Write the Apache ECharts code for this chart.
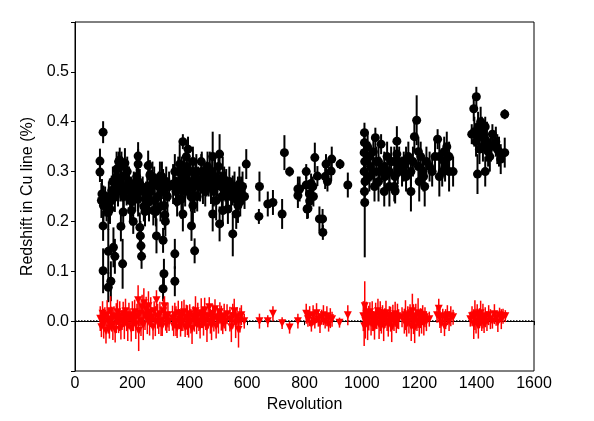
<!DOCTYPE html>
<html>
<head>
<meta charset="utf-8">
<script src="https://cdn.jsdelivr.net/npm/echarts@6/dist/echarts.min.js"></script>
<style>
html, body { margin: 0; padding: 0; background: #fff; }
#chart { width: 594px; height: 421px; }
</style>
</head>
<body>
<div id="chart"></div>
<script>
// [revolution, redshift %, error]
var blackPts = [
  [87,0.321,0.025],[87,0.299,0.02],[98,0.379,0.022],[94,0.255,0.03],[92,0.242,0.035],[99,0.232,0.04],
  [98,0.191,0.03],[98,0.101,0.045],[116,0.068,0.03],[125,0.08,0.04],[116,0.14,0.045],[134,0.148,0.04],
  [139,0.13,0.035],[166,0.115,0.05],[128,0.262,0.03],[128,0.242,0.025],[116,0.218,0.035],[122,0.225,0.03],
  [139,0.249,0.03],[145,0.305,0.035],[156,0.323,0.025],[162,0.31,0.03],[174,0.317,0.03],[160,0.19,0.03],
  [168,0.219,0.035],[180,0.262,0.03],[186,0.275,0.035],[192,0.242,0.04],[197,0.222,0.03],[203,0.2,0.025],
  [220,0.331,0.028],[220,0.315,0.03],[220,0.28,0.06],[226,0.275,0.03],[222,0.26,0.03],[220,0.245,0.035],
  [226,0.188,0.03],[228,0.171,0.03],[230,0.151,0.03],[232,0.13,0.025],[255,0.312,0.03],[261,0.293,0.03],
  [267,0.273,0.03],[273,0.222,0.03],[278,0.242,0.035],[284,0.171,0.035],[296,0.29,0.03],[300,0.26,0.035],
  [307,0.275,0.03],[310,0.26,0.035],[311,0.232,0.03],[313,0.213,0.03],[315,0.2,0.03],[307,0.162,0.025],
  [310,0.095,0.03],[307,0.065,0.025],[348,0.135,0.03],[348,0.08,0.03],[342,0.275,0.04],[348,0.3,0.035],
  [105,0.24,0.03],[110,0.23,0.03],[118,0.25,0.03],[132,0.28,0.03],[140,0.27,0.03],[146,0.29,0.04],
  [150,0.26,0.03],[152,0.32,0.02],[158,0.28,0.04],[165,0.27,0.03],[170,0.25,0.03],[176,0.29,0.03],
  [182,0.3,0.03],[188,0.28,0.03],[195,0.26,0.03],[200,0.24,0.03],[205,0.27,0.03],[210,0.25,0.03],
  [215,0.29,0.03],[236,0.26,0.03],[240,0.23,0.03],[244,0.22,0.03],[248,0.25,0.03],[252,0.27,0.03],
  [258,0.24,0.04],[264,0.26,0.03],[270,0.29,0.03],[276,0.28,0.03],[282,0.22,0.03],[288,0.25,0.03],
  [292,0.27,0.03],[298,0.23,0.03],[303,0.29,0.03],[318,0.28,0.03],[322,0.25,0.035],[328,0.27,0.03],
  [360,0.3,0.03],[365,0.315,0.04],[376,0.36,0.015],[394,0.345,0.025],[388,0.33,0.03],[371,0.245,0.04],
  [376,0.215,0.035],[394,0.28,0.03],[400,0.27,0.03],[406,0.191,0.03],[417,0.141,0.025],[411,0.32,0.03],
  [423,0.3,0.035],[440,0.32,0.015],[411,0.232,0.04],[417,0.252,0.035],[446,0.27,0.035],[458,0.285,0.035],
  [470,0.3,0.04],[480,0.33,0.05],[504,0.335,0.04],[492,0.242,0.04],[480,0.215,0.035],[504,0.195,0.035],
  [515,0.222,0.03],[533,0.225,0.03],[515,0.29,0.04],[527,0.265,0.04],[550,0.262,0.03],[562,0.245,0.03],
  [573,0.275,0.035],[579,0.26,0.03],[550,0.175,0.045],[562,0.215,0.03],[568,0.232,0.035],[597,0.315,0.03],
  [591,0.25,0.025],[352,0.26,0.03],[356,0.24,0.03],[362,0.28,0.03],[368,0.27,0.03],[372,0.3,0.03],
  [380,0.29,0.035],[384,0.26,0.03],[390,0.31,0.03],[398,0.3,0.03],[404,0.25,0.03],[408,0.28,0.03],
  [414,0.27,0.04],[420,0.29,0.03],[426,0.25,0.03],[430,0.28,0.03],[436,0.27,0.03],[442,0.3,0.04],
  [450,0.29,0.03],[454,0.26,0.03],[462,0.31,0.03],[466,0.28,0.03],[474,0.27,0.035],[478,0.3,0.03],
  [484,0.26,0.03],[488,0.29,0.035],[496,0.28,0.03],[500,0.31,0.03],[508,0.27,0.03],[512,0.25,0.03],
  [520,0.28,0.03],[524,0.27,0.03],[530,0.26,0.03],[538,0.28,0.03],[544,0.25,0.03],[556,0.27,0.03],
  [568,0.26,0.03],[576,0.24,0.03],[584,0.27,0.03],
  [641,0.21,0.015],[643,0.27,0.03],[672,0.235,0.025],[690,0.238,0.025],[722,0.215,0.03],[730,0.338,0.035],
  [748,0.3,0.01],[777,0.265,0.025],[777,0.252,0.025],[783,0.265,0.025],[806,0.3,0.015],[806,0.273,0.02],
  [809,0.225,0.02],[812,0.226,0.02],[817,0.255,0.02],[818,0.241,0.02],[823,0.276,0.02],[829,0.27,0.02],
  [831,0.25,0.02],[836,0.328,0.03],[845,0.291,0.02],[852,0.205,0.025],[863,0.205,0.02],[864,0.178,0.015],
  [872,0.29,0.025],[875,0.315,0.02],[880,0.28,0.02],[893,0.301,0.02],[895,0.325,0.025],[924,0.315,0.01],
  [951,0.273,0.025],
  [1009,0.378,0.02],[1009,0.358,0.02],[1008,0.338,0.03],[1010,0.32,0.03],[1008,0.3,0.03],[1011,0.28,0.03],
  [1009,0.26,0.03],[1010,0.238,0.11],[1020,0.35,0.03],[1026,0.33,0.03],[1026,0.29,0.03],[1030,0.31,0.03],
  [1040,0.34,0.03],[1040,0.3,0.03],[1044,0.27,0.03],[1047,0.368,0.02],[1050,0.32,0.03],[1058,0.32,0.03],
  [1058,0.28,0.04],[1062,0.3,0.03],[1067,0.355,0.02],[1078,0.31,0.03],[1080,0.29,0.03],[1078,0.26,0.03],
  [1088,0.33,0.03],[1096,0.3,0.03],[1096,0.27,0.04],[1102,0.32,0.03],[1113,0.32,0.03],[1115,0.29,0.03],
  [1113,0.27,0.03],[1116,0.261,0.025],[1122,0.361,0.03],[1122,0.335,0.03],[1125,0.305,0.03],[1130,0.32,0.03],
  [1140,0.3,0.03],[1146,0.31,0.03],[1154,0.32,0.03],[1154,0.29,0.03],[1162,0.33,0.03],[1171,0.3,0.03],
  [1171,0.26,0.04],[1178,0.32,0.03],[1183,0.37,0.03],[1191,0.403,0.05],[1197,0.34,0.03],[1197,0.31,0.03],
  [1200,0.28,0.04],[1205,0.33,0.03],[1212,0.3,0.03],[1215,0.29,0.03],[1219,0.27,0.04],[1225,0.32,0.03],
  [1236,0.31,0.03],[1245,0.3,0.03],[1255,0.33,0.03],[1264,0.365,0.02],[1270,0.33,0.03],[1270,0.29,0.04],
  [1280,0.3,0.03],[1287,0.34,0.03],[1287,0.32,0.03],[1290,0.31,0.03],[1296,0.35,0.03],[1304,0.33,0.03],
  [1304,0.3,0.04],[1318,0.3,0.03],
  [1383,0.375,0.02],[1390,0.426,0.025],[1399,0.45,0.02],[1392,0.38,0.03],[1398,0.36,0.03],[1405,0.39,0.03],
  [1410,0.37,0.03],[1414,0.4,0.03],[1418,0.38,0.03],[1422,0.35,0.03],[1426,0.37,0.03],[1430,0.39,0.02],
  [1436,0.36,0.04],[1403,0.295,0.04],[1430,0.3,0.03],[1440,0.34,0.03],[1446,0.33,0.03],[1455,0.375,0.02],
  [1467,0.36,0.03],[1472,0.345,0.03],[1478,0.34,0.03],[1484,0.325,0.03],[1498,0.338,0.03],[1498,0.415,0.01],
  [1410,0.345,0.03],[1450,0.35,0.03]
];

var redPts = [
  [88,0.005,0.025],[92,-0.012,0.02],[96,0.015,0.025],[100,-0.005,0.03],[104,0.008,0.02],[108,-0.02,0.025],
  [112,0.012,0.03],[116,0.0,0.025],[120,-0.015,0.02],[124,0.02,0.03],[128,0.004,0.025],[132,-0.008,0.03],
  [136,0.01,0.02],[140,-0.018,0.025],[144,0.006,0.03],[148,0.018,0.025],[152,-0.004,0.02],[156,0.01,0.03],
  [160,-0.012,0.025],[164,0.002,0.02],[168,0.014,0.025],[172,-0.006,0.03],[176,0.02,0.025],[180,0.0,0.02],
  [184,-0.01,0.03],[188,0.012,0.025],[192,0.006,0.02],[196,-0.016,0.025],[200,0.01,0.03],[204,0.0,0.02],
  [208,0.018,0.025],[212,-0.006,0.03],[216,0.01,0.025],[220,0.042,0.03],[222,-0.02,0.04],[226,0.015,0.025],
  [230,0.0,0.03],[234,0.028,0.025],[238,-0.008,0.03],[240,0.036,0.03],[244,0.012,0.03],[248,0.024,0.025],
  [252,0.004,0.03],[256,0.03,0.03],[260,-0.004,0.025],[264,0.018,0.03],[268,0.008,0.02],[272,-0.012,0.025],
  [276,0.02,0.02],[280,0.0,0.03],[284,0.042,0.02],[288,0.01,0.025],[292,-0.006,0.02],[296,0.014,0.025],
  [300,0.0,0.03],[304,-0.01,0.02],[308,0.02,0.025],[312,0.03,0.02],[316,0.006,0.025],[320,-0.004,0.02],
  [324,0.012,0.025],[328,0.0,0.02],
  [340,0.006,0.025],[344,-0.01,0.02],[348,0.012,0.025],[352,0.0,0.03],[356,-0.014,0.02],[360,0.016,0.025],
  [364,0.004,0.02],[368,-0.006,0.025],[372,0.01,0.03],[376,0.0,0.02],[380,0.018,0.025],[384,-0.012,0.02],
  [388,0.008,0.025],[392,0.002,0.03],[396,-0.008,0.025],[400,0.014,0.02],[404,0.0,0.025],[408,-0.016,0.03],
  [412,0.01,0.02],[416,0.004,0.025],[420,0.02,0.03],[424,-0.006,0.02],[428,0.012,0.025],[432,0.0,0.02],
  [436,-0.01,0.025],[440,0.016,0.03],[444,0.006,0.02],[448,-0.004,0.025],[452,0.022,0.025],[456,0.002,0.02],
  [460,-0.012,0.03],[464,0.01,0.025],[468,0.028,0.02],[472,0.0,0.025],[476,-0.008,0.03],[480,0.014,0.02],
  [484,0.004,0.025],[488,0.024,0.02],[492,-0.01,0.025],[496,0.008,0.02],[500,0.0,0.025],[505,0.018,0.02],
  [510,0.006,0.025],[515,-0.006,0.02],[520,0.01,0.025],[525,0.0,0.02],[530,0.014,0.02],[540,0.004,0.025],
  [545,-0.012,0.03],[550,0.01,0.025],[555,0.02,0.025],[560,-0.004,0.03],[565,0.008,0.02],[570,-0.018,0.035],
  [575,0.002,0.025],[580,0.012,0.02],[590,0.0,0.015],
  [643,0.0,0.015],[672,0.0,0.012],[690,0.015,0.015],[722,-0.004,0.012],[748,-0.013,0.012],[777,0.0,0.015],
  [806,0.015,0.02],[812,0.004,0.015],[818,0.01,0.02],[824,-0.006,0.015],[830,0.012,0.02],[836,0.0,0.015],
  [842,0.016,0.02],[848,0.004,0.015],[854,-0.004,0.02],[860,0.008,0.015],[866,0.012,0.02],[872,0.0,0.015],
  [878,0.01,0.02],[884,-0.006,0.015],[890,0.006,0.02],[896,0.004,0.015],[922,-0.003,0.01],[951,0.012,0.02],
  [1005,0.01,0.03],[1008,-0.01,0.04],[1010,0.03,0.05],[1012,0.0,0.035],[1016,0.014,0.025],[1020,-0.008,0.03],
  [1024,0.006,0.025],[1028,0.018,0.02],[1032,-0.004,0.025],[1036,0.01,0.03],[1040,0.0,0.02],[1044,-0.012,0.025],
  [1048,0.012,0.025],[1052,0.004,0.02],[1056,0.02,0.025],[1060,-0.006,0.03],[1064,0.01,0.03],[1068,0.0,0.025],
  [1072,0.012,0.02],[1076,-0.01,0.03],[1080,0.006,0.02],[1084,0.016,0.025],[1088,0.0,0.02],[1092,-0.006,0.025],
  [1096,0.01,0.02],[1100,0.004,0.025],[1104,-0.012,0.03],[1108,0.008,0.025],[1112,0.0,0.02],[1116,0.014,0.025],
  [1120,-0.004,0.02],[1124,0.01,0.025],[1128,0.004,0.02],[1140,0.008,0.02],[1148,0.0,0.025],[1152,0.012,0.03],
  [1156,-0.006,0.025],[1160,0.01,0.02],[1164,0.0,0.025],[1168,0.014,0.02],[1172,-0.01,0.03],[1176,0.02,0.035],
  [1180,0.004,0.03],[1184,-0.014,0.03],[1188,0.01,0.025],[1192,0.0,0.02],[1196,0.016,0.03],[1200,-0.006,0.025],
  [1204,0.006,0.02],[1208,0.0,0.025],[1212,0.012,0.02],[1216,-0.004,0.025],[1220,0.008,0.02],[1225,0.0,0.02],
  [1235,0.004,0.015],[1262,0.012,0.015],[1268,0.025,0.02],[1272,0.006,0.02],[1276,-0.004,0.02],[1282,0.01,0.015],
  [1288,-0.01,0.02],[1292,0.004,0.02],[1298,0.012,0.02],[1304,0.0,0.02],[1310,0.01,0.02],[1318,0.008,0.015],
  [1378,0.004,0.015],[1384,0.01,0.02],[1390,-0.006,0.03],[1394,0.012,0.03],[1398,0.0,0.025],[1402,0.014,0.02],
  [1406,-0.01,0.025],[1410,0.006,0.02],[1414,0.016,0.025],[1418,0.0,0.02],[1422,0.01,0.025],[1426,-0.004,0.02],
  [1430,0.008,0.02],[1436,0.0,0.02],[1442,0.012,0.02],[1448,0.004,0.02],[1455,0.0,0.015],[1462,0.014,0.02],
  [1468,0.006,0.015],[1474,-0.002,0.02],[1480,0.012,0.015],[1486,0.004,0.02],[1492,0.01,0.015],[1500,0.01,0.012]
];

var yTickLabels = ['0.0', '0.1', '0.2', '0.3', '0.4', '0.5'];
var xTickStep = 200;

var FONT = '"Liberation Sans", Arial, sans-serif';

function errorBars(color, width) {
    return function (params, api) {
        var x = api.value(0), y = api.value(1), e = api.value(2);
        var top = api.coord([x, y + e]);
        var bot = api.coord([x, y - e]);
        return {
            type: 'line',
            shape: { x1: top[0], y1: top[1], x2: bot[0], y2: bot[1] },
            style: { stroke: color, lineWidth: width }
        };
    };
}

var myChart = echarts.init(document.getElementById('chart'));
var option = {
    animation: false,
    grid: {
        left: 75,
        right: 60,
        top: 22,
        bottom: 50,
        show: true,
        borderColor: '#000',
        borderWidth: 1,
        containLabel: false
    },
    xAxis: {
        type: 'value',
        min: 0,
        max: 1600,
        interval: xTickStep,
        name: 'Revolution',
        nameLocation: 'middle',
        nameGap: 25,
        nameTextStyle: { color: '#000', fontSize: 16, fontFamily: FONT },
        axisLine: { show: true, lineStyle: { color: '#000', width: 1 } },
        axisTick: { show: true, length: 4, lineStyle: { color: '#000' } },
        axisLabel: {
            color: '#000', fontSize: 16, fontFamily: FONT, margin: 5,
            formatter: function (v) { return String(v); }
        },
        splitLine: { show: false }
    },
    yAxis: {
        type: 'value',
        min: -0.1,
        max: 0.6,
        interval: 0.1,
        name: 'Redshift in Cu line (%)',
        nameLocation: 'middle',
        nameGap: 36,
        nameTextStyle: { color: '#000', fontSize: 16, fontFamily: FONT },
        axisLine: { show: true, lineStyle: { color: '#000', width: 1 } },
        axisTick: { show: true, length: 4, lineStyle: { color: '#000' } },
        axisLabel: {
            color: '#000', fontSize: 16, fontFamily: FONT, margin: 6,
            formatter: function (v) {
                var i = Math.round(v * 10);
                return (i >= 0 && i < yTickLabels.length) ? yTickLabels[i] : '';
            }
        },
        splitLine: { show: false }
    },
    series: [
        {
            type: 'custom',
            renderItem: errorBars('#000', 2),
            encode: { x: 0, y: 1 },
            data: blackPts,
            z: 2
        },
        {
            type: 'scatter',
            data: blackPts,
            symbol: 'circle',
            symbolSize: 9,
            itemStyle: { color: '#000', opacity: 1 },
            z: 3
        },
        {
            type: 'custom',
            renderItem: errorBars('#ff0000', 1.5),
            encode: { x: 0, y: 1 },
            data: redPts,
            z: 4
        },
        {
            type: 'scatter',
            data: redPts,
            symbol: 'triangle',
            symbolRotate: 180,
            symbolSize: 8,
            itemStyle: { color: '#ff0000', opacity: 1 },
            z: 5,
            markLine: {
                silent: true,
                symbol: 'none',
                label: { show: false },
                lineStyle: { color: '#000', type: 'dotted', width: 1.5 },
                data: [{ yAxis: 0 }],
                z: 1
            }
        }
    ]
};
myChart.setOption(option);
</script>
</body>
</html>
